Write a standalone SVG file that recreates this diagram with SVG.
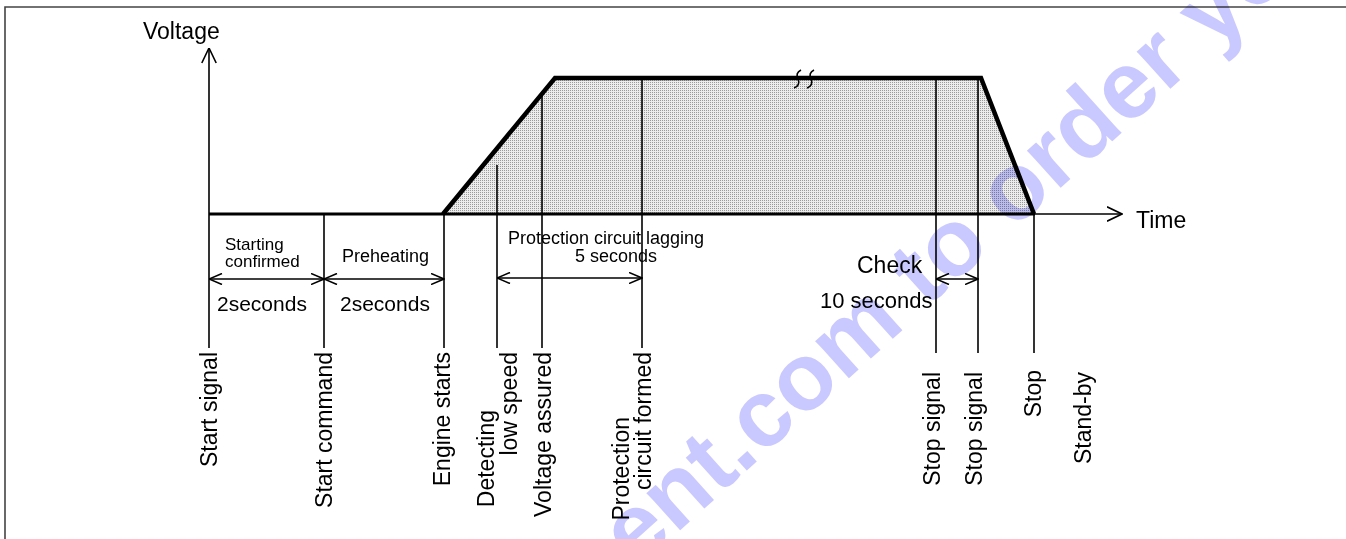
<svg xmlns="http://www.w3.org/2000/svg" width="1346" height="539" viewBox="0 0 1346 539">
<style>
  .ln{stroke:#000;stroke-width:1.6;fill:none}
  .t{font-family:"Liberation Sans",Arial,sans-serif;fill:#000}
  .lab{font-size:23px}
  .sm{font-size:18px}
  .xs{font-size:17px}
  .md{font-size:21px}
  .dim{stroke:#000;stroke-width:1.6;fill:none;marker-start:url(#ah);marker-end:url(#ah)}
  .wm{font-family:"Liberation Sans",Arial,sans-serif;font-size:95px;font-weight:bold;fill:#c9c9ff;mix-blend-mode:multiply}
</style>
<defs>
  <pattern id="stip" width="2" height="2" patternUnits="userSpaceOnUse">
    <rect width="2" height="2" fill="#ececec"/>
    <rect width="1" height="1" fill="#9a9a9a"/>
  </pattern>
  <marker id="ah" viewBox="0 0 14 12" refX="13.5" refY="6" markerWidth="14" markerHeight="12" orient="auto-start-reverse" markerUnits="userSpaceOnUse">
    <path d="M0.5,0.5 L13.5,6 L0.5,11.5" fill="none" stroke="#000" stroke-width="1.6"/>
  </marker>
  <marker id="ahBig" viewBox="0 0 16 16" refX="15.5" refY="8" markerWidth="16" markerHeight="16" orient="auto" markerUnits="userSpaceOnUse">
    <path d="M0.5,0.8 L15.5,8 L0.5,15.2" fill="none" stroke="#000" stroke-width="1.6"/>
  </marker>
</defs>
<rect width="1346" height="539" fill="#fff"/>
<path d="M5,539 V7 H1346" stroke="#444" stroke-width="1.6" fill="none"/>

<g id="waveform">
  <polygon points="443,214 555,78 981,78 1034,214" fill="url(#stip)"/>
  <polyline points="443,214 555,78 981,78 1034,214" fill="none" stroke="#000" stroke-width="4.5" stroke-linejoin="miter"/>
  <path d="M801,70 C797,72 796,75 798,79 C800,83 798,87 794,88" class="ln" stroke-width="2.4"/>
  <path d="M814,70 C810,72 809,75 811,79 C813,83 811,87 807,88" class="ln" stroke-width="2.4"/>
</g>

<g id="axes">
  <line x1="209" y1="348" x2="209" y2="48" class="ln" marker-end="url(#ahBig)"/>
  <line x1="209" y1="214" x2="1035" y2="214" stroke="#000" stroke-width="3"/>
  <line x1="1034" y1="214" x2="1122" y2="214" class="ln" marker-end="url(#ahBig)"/>
  <text class="t lab" x="143" y="39">Voltage</text>
  <text class="t lab" x="1136" y="228">Time</text>
</g>

<g id="connectors">
  <line x1="324" y1="214" x2="324" y2="348" class="ln"/>
  <line x1="444" y1="214" x2="444" y2="348" class="ln"/>
  <line x1="497" y1="165" x2="497" y2="348" class="ln"/>
  <line x1="542" y1="94" x2="542" y2="348" class="ln"/>
  <line x1="642" y1="79" x2="642" y2="348" class="ln"/>
  <line x1="936" y1="79" x2="936" y2="353" class="ln"/>
  <line x1="978" y1="80" x2="978" y2="353" class="ln"/>
  <line x1="1034" y1="214" x2="1034" y2="353" class="ln"/>
  <line x1="209" y1="279" x2="324" y2="279" class="dim"/>
  <line x1="324" y1="279" x2="444" y2="279" class="dim"/>
  <line x1="497" y1="278" x2="642" y2="278" class="dim"/>
  <line x1="936" y1="279" x2="978" y2="279" class="dim"/>
</g>

<g id="durations">
  <text class="t xs" x="225" y="250">Starting</text>
  <text class="t xs" x="225" y="267">confirmed</text>
  <text class="t md" x="217" y="311">2seconds</text>
  <text class="t sm" x="342" y="262">Preheating</text>
  <text class="t md" x="340" y="311">2seconds</text>
  <text class="t sm" x="606" y="244" text-anchor="middle">Protection circuit lagging</text>
  <text class="t sm" x="616" y="262" text-anchor="middle">5 seconds</text>
  <text class="t lab" x="857" y="273">Check</text>
  <text class="t" style="font-size:22px" x="820" y="308">10 seconds</text>
</g>

<g id="ev-start-signal"><text class="t lab" text-anchor="end" transform="translate(217,352) rotate(-90)">Start signal</text></g>
<g id="ev-start-command"><text class="t lab" text-anchor="end" transform="translate(332,352) rotate(-90)">Start command</text></g>
<g id="ev-engine-starts"><text class="t lab" text-anchor="end" transform="translate(450,352) rotate(-90)">Engine starts</text></g>
<g id="ev-detecting">
  <text class="t lab" text-anchor="end" transform="translate(494,410) rotate(-90)">Detecting</text>
  <text class="t lab" text-anchor="end" transform="translate(517,352) rotate(-90)">low speed</text>
</g>
<g id="ev-voltage-assured"><text class="t lab" text-anchor="end" transform="translate(551,352) rotate(-90)">Voltage assured</text></g>
<g id="ev-protection">
  <text class="t lab" text-anchor="end" transform="translate(629,417) rotate(-90)">Protection</text>
  <text class="t lab" text-anchor="end" transform="translate(651,352) rotate(-90)">circuit formed</text>
</g>
<g id="ev-stop-signal-1"><text class="t lab" text-anchor="end" transform="translate(940,372) rotate(-90)">Stop signal</text></g>
<g id="ev-stop-signal-2"><text class="t lab" text-anchor="end" transform="translate(982,372) rotate(-90)">Stop signal</text></g>
<g id="ev-stop"><text class="t lab" text-anchor="end" transform="translate(1041,370) rotate(-90)">Stop</text></g>
<g id="ev-stand-by"><text class="t lab" text-anchor="end" transform="translate(1091,372) rotate(-90)">Stand-by</text></g>

<g id="watermark"><text class="wm" transform="translate(636,570) rotate(-42)">ent.com to order yo</text></g>
</svg>
